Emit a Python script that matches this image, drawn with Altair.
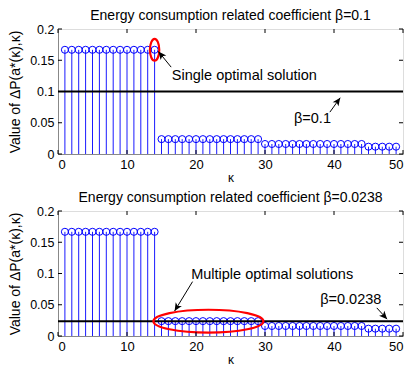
import math
import altair as alt
import pandas as pd

# ---- data ----
kappa = list(range(1, 50))
values = ([0.1667] * 14) + ([0.0238] * 15) + ([0.0160] * 15) + ([0.0117] * 5)
betas = [0.1, 0.0238]
titles = ["Energy consumption related coefficient \u03b2=0.1",
          "Energy consumption related coefficient \u03b2=0.0238"]
x_ticks = [0, 10, 20, 30, 40, 50]
y_ticks = [0, 0.05, 0.1, 0.15, 0.2]

# annotations (data units)
texts = [
    [{"x": 16.5, "y": 0.125, "t": "Single optimal solution"},
     {"x": 34.2, "y": 0.056, "t": "\u03b2=0.1"}],
    [{"x": 19.3, "y": 0.098, "t": "Multiple optimal solutions"},
     {"x": 38.0, "y": 0.057, "t": "\u03b2=0.0238"}],
]
arrows = [
    [{"x": 16.4, "y": 0.139, "x2": 14.55, "y2": 0.164},
     {"x": 39.4, "y": 0.067, "x2": 40.9, "y2": 0.090}],
    [{"x": 19.5, "y": 0.087, "x2": 16.9, "y2": 0.040},
     {"x": 46.2, "y": 0.045, "x2": 47.7, "y2": 0.027}],
]
ellipses = [
    {"x": 14.0, "y": 0.1667, "rx": 0.43, "ry": 1.0, "size": 471},
    {"x": 21.8, "y": 0.0237, "rx": 1.0, "ry": 0.208, "size": 12100},
]

W, H = 345, 125
XMAX, YMAX = 50, 0.2
FONT = "Liberation Sans"
HEAD = "M 0 0 L -0.45 1 L 0 0.75 L 0.45 1 Z"
XTITLE = "\u03ba"
YTITLE = "Value of \u0394P(a*(\u03ba),\u03ba)"


def ellipse_path(rx, ry):
    return (f"M {-rx} 0 A {rx} {ry} 0 1 0 {rx} 0 "
            f"A {rx} {ry} 0 1 0 {-rx} 0 Z")


XS = alt.Scale(domain=[0, XMAX], nice=False)
YS = alt.Scale(domain=[0, YMAX], nice=False)
XAX = alt.Axis(values=x_ticks, tickSize=0, labelPadding=4, titlePadding=1,
               labelFontSize=13, titleFontSize=12, titleFontWeight="normal",
               grid=False, labelFlush=True, labelFont=FONT, titleFont=FONT)
YAX = alt.Axis(values=y_ticks, format="~g", tickSize=0, labelPadding=4,
               labelFontSize=12.5, titleFontSize=14, titleFontWeight="normal",
               grid=False, titlePadding=7, labelFont=FONT, titleFont=FONT)


def X(f):
    return alt.X(f, scale=XS, axis=XAX, title=XTITLE)


def Y(f):
    return alt.Y(f, scale=YS, axis=YAX, title=YTITLE)


def panel(i):
    df = pd.DataFrame({"k": kappa, "v": values})
    base = alt.Chart(df)
    stems = base.mark_rule(color="#1a1aff", strokeWidth=1).encode(
        x=X("k:Q"), y=Y("v:Q"), y2=alt.datum(0))
    marks = base.mark_point(shape="circle", filled=False, size=50,
                            color="#0000ff", strokeWidth=1, opacity=1).encode(
        x=X("k:Q"), y=Y("v:Q"))
    bline = alt.Chart(pd.DataFrame({"b": [betas[i]]})).mark_rule(
        color="black", strokeWidth=2).encode(y=Y("b:Q"))

    e = ellipses[i]
    ell = alt.Chart(pd.DataFrame([e])).mark_point(
        shape=ellipse_path(e["rx"], e["ry"]), size=e["size"], filled=False,
        stroke="red", strokeWidth=2.2, opacity=1).encode(
        x=X("x:Q"), y=Y("y:Q"))

    adf = pd.DataFrame(arrows[i])
    adf["ang"] = [
        (math.degrees(math.atan2((r["x2"] - r["x"]) * W / XMAX,
                                 (r["y2"] - r["y"]) * H / YMAX)) + 360) % 360
        for _, r in adf.iterrows()
    ]
    shafts = alt.Chart(adf).mark_rule(color="black", strokeWidth=1).encode(
        x=X("x:Q"), y=Y("y:Q"), x2="x2:Q", y2="y2:Q")
    heads = alt.Chart(adf).mark_point(shape=HEAD, size=256, filled=True,
                                      color="black", opacity=1).encode(
        x=X("x2:Q"), y=Y("y2:Q"), angle=alt.Angle("ang:Q", scale=None))

    txt = alt.Chart(pd.DataFrame(texts[i])).mark_text(
        align="left", baseline="middle", fontSize=14.5, font=FONT,
        color="black").encode(x=X("x:Q"), y=Y("y:Q"), text="t:N")

    xt = alt.Chart(pd.DataFrame({"t": x_ticks}))
    yt = alt.Chart(pd.DataFrame({"t": y_ticks}))
    tick_layers = [
        xt.mark_rule(color="black").encode(
            x=X("t:Q"), y=alt.value(H), y2=alt.value(H - 4)),
        xt.mark_rule(color="black").encode(
            x=X("t:Q"), y=alt.value(0), y2=alt.value(4)),
        yt.mark_rule(color="black").encode(
            y=Y("t:Q"), x=alt.value(0), x2=alt.value(4)),
        yt.mark_rule(color="black").encode(
            y=Y("t:Q"), x=alt.value(W), x2=alt.value(W - 4)),
    ]

    return alt.layer(stems, marks, bline, ell, shafts, heads, txt,
                     *tick_layers).properties(
        width=W, height=H,
        title=alt.TitleParams(titles[i], fontSize=14, fontWeight="normal",
                              font=FONT, offset=0, color="black"))


chart = alt.vconcat(panel(0), panel(1), spacing=6).properties(
    padding={"left": 0, "top": 0, "right": 0, "bottom": 0}
).configure_axis(
    labelColor="black", titleColor="black", domainColor="black",
    domainWidth=1,
).configure_view(stroke="black", strokeWidth=1).configure(background="white")

chart.save("out.html", embed_options={"renderer": "svg", "actions": False})
